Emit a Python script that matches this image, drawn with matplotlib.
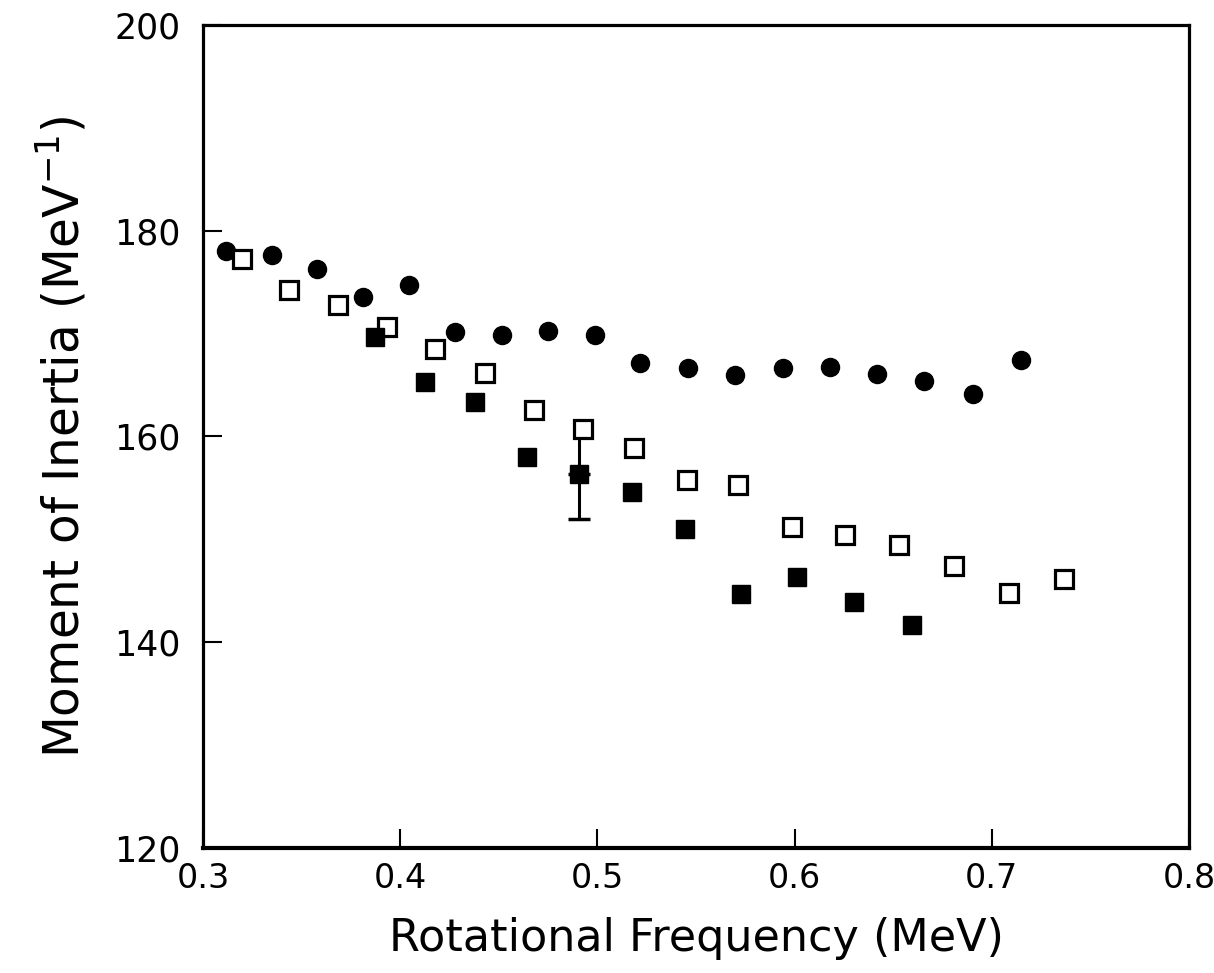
import matplotlib
matplotlib.use("Agg")
import matplotlib.pyplot as plt

# filled circles
circ_x = [0.3117, 0.3351, 0.3577, 0.3810, 0.4045, 0.4278, 0.4516, 0.4749, 0.4989,
          0.5218, 0.5458, 0.5698, 0.5940, 0.6180, 0.6419, 0.6658, 0.6906, 0.7148]
circ_y = [178.0, 177.6, 176.3, 173.6, 174.7, 170.2, 169.9, 170.3, 169.9,
          167.1, 166.7, 166.0, 166.7, 166.8, 166.1, 165.4, 164.1, 167.4]

# open squares
open_x = [0.3196, 0.3438, 0.3686, 0.3932, 0.4176, 0.4430, 0.4679, 0.4927, 0.5186,
          0.5453, 0.5714, 0.5985, 0.6256, 0.6531, 0.6810, 0.7089, 0.7366]
open_y = [177.3, 174.2, 172.8, 170.6, 168.5, 166.2, 162.6, 160.7, 158.9,
          155.8, 155.3, 151.2, 150.4, 149.5, 147.4, 144.8, 146.1]

# filled squares
fsq_x = [0.3872, 0.4126, 0.4379, 0.4641, 0.4907, 0.5175, 0.5446, 0.5730, 0.6014, 0.6300, 0.6593]
fsq_y = [169.7, 165.3, 163.4, 158.0, 156.4, 154.6, 151.0, 144.7, 146.3, 143.9, 141.7]

# one error bar shown on the filled-square series
err_x = 0.4907
err_y = 156.4
err_val = 4.4

xticks = [0.3, 0.4, 0.5, 0.6, 0.7, 0.8]
yticks = [120, 140, 160, 180, 200]

fig = plt.figure(figsize=(12.14, 9.73), dpi=100)
ax = fig.add_axes([0.1672, 0.1285, 0.8122, 0.8458])

# bar below the point gets a cap, the part above does not
ax.errorbar([err_x], [err_y], yerr=[[err_val], [0]], fmt="none", ecolor="black",
            elinewidth=2.2, capsize=8, capthick=2.5, zorder=2)
ax.errorbar([err_x], [err_y], yerr=[[0], [err_val]], fmt="none", ecolor="black",
            elinewidth=2.2, capsize=0, zorder=2)
ax.plot(circ_x, circ_y, "o", color="black", markersize=13, linestyle="none", zorder=3)
ax.plot(open_x, open_y, "s", markerfacecolor="white", markeredgecolor="black",
        markeredgewidth=2.3, markersize=12.5, linestyle="none", zorder=3)
ax.plot(fsq_x, fsq_y, "s", color="black", markersize=13, linestyle="none", zorder=4)

ax.set_xlim(0.3, 0.8)
ax.set_ylim(120, 200)
ax.set_xticks(xticks)
ax.set_yticks(yticks)
ax.set_xticklabels([f"{t:.1f}" for t in xticks], fontsize=24)
ax.set_yticklabels([str(t) for t in yticks], fontsize=25)

ax.tick_params(direction="in", length=14, width=1.5)
ax.tick_params(axis="x", pad=10)
ax.tick_params(axis="y", pad=16)

for side in ["left", "right", "top"]:
    ax.spines[side].set_linewidth(2.3)
ax.spines["bottom"].set_linewidth(3)

ax.set_xlabel("Rotational Frequency (MeV)", fontsize=32, labelpad=16)
ax.set_ylabel("Moment of Inertia (MeV$^{-1}$)", fontsize=35, labelpad=18)

fig.savefig("out.png", dpi=100)
